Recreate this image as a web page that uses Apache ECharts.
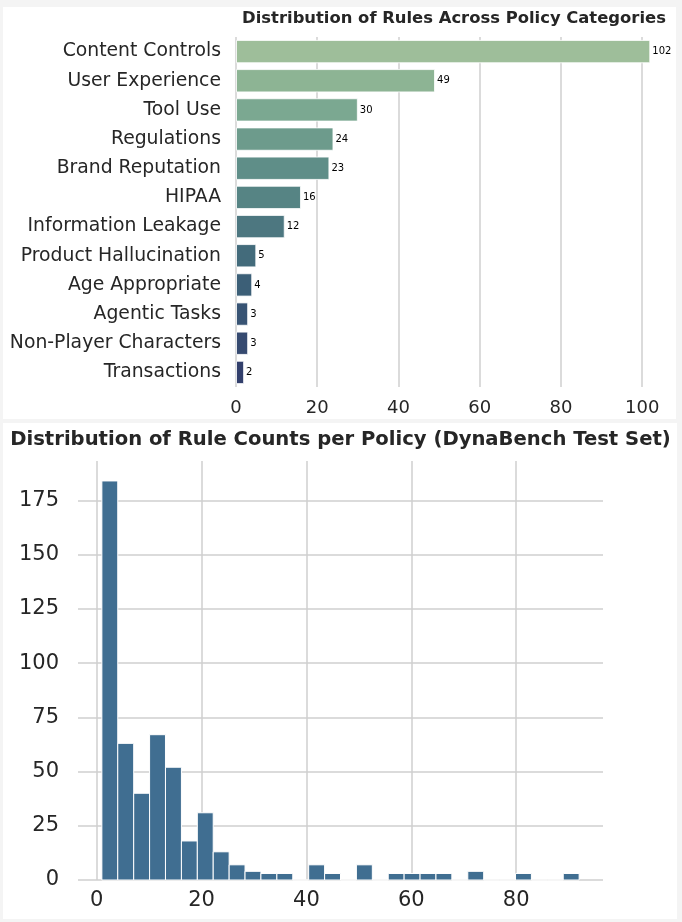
<!DOCTYPE html>
<html>
<head>
<meta charset="utf-8">
<script src="https://cdn.jsdelivr.net/npm/echarts@6/dist/echarts.min.js"></script>
<style>
  html, body { margin: 0; padding: 0; background: #f4f4f4; }
  #wrap { position: relative; width: 682px; height: 922px; }
  .panel { position: absolute; background: #ffffff; }
  #c { position: absolute; left: 0; top: 0; width: 682px; height: 922px; }
</style>
</head>
<body>
<div id="wrap">
  <div class="panel" style="left:3px;top:7px;width:673px;height:412px;"></div>
  <div class="panel" style="left:3px;top:423px;width:674px;height:496px;"></div>
  <div id="c"></div>
</div>
<script>
// ---- Top chart data ----
const categories = [
  'Content Controls', 'User Experience', 'Tool Use', 'Regulations',
  'Brand Reputation', 'HIPAA', 'Information Leakage', 'Product Hallucination',
  'Age Appropriate', 'Agentic Tasks', 'Non-Player Characters', 'Transactions'
];
const ruleCounts = [102, 49, 30, 24, 23, 16, 12, 5, 4, 3, 3, 2];
const barColors = [
  '#9ebe9a', '#8db494', '#7ba891', '#6d9b8c', '#5f8e88', '#568484',
  '#4d7780', '#436b7b', '#3c5f77', '#385474', '#364a70', '#323f6c'
];
const topTicks = [0, 20, 40, 60, 80, 100];
const topTitle = 'Distribution of Rules Across Policy Categories';

// ---- Bottom chart data (histogram) ----
const binEdges = [
  1.00, 4.03, 7.07, 10.10, 13.13, 16.17, 19.20, 22.23, 25.27, 28.30,
  31.33, 34.37, 37.40, 40.43, 43.47, 46.50, 49.53, 52.57, 55.60, 58.63,
  61.67, 64.70, 67.73, 70.77, 73.80, 76.83, 79.87, 82.90, 85.93, 88.97, 92.00
];
const binCounts = [
  184, 63, 40, 67, 52, 18, 31, 13, 7, 4,
  3, 3, 0, 7, 3, 0, 7, 0, 3, 3,
  3, 3, 0, 4, 0, 0, 3, 0, 0, 3
];
const bottomXTicks = [0, 20, 40, 60, 80];
const bottomYTicks = [0, 25, 50, 75, 100, 125, 150, 175];
const bottomTitle = 'Distribution of Rule Counts per Policy (DynaBench Test Set)';

const FONT = 'DejaVu Sans';
const TXT = '#262626';
const GRID = '#cfcfcf';

const chart = echarts.init(document.getElementById('c'), null, { renderer: 'canvas' });

const histData = binCounts.map((c, i) => [binEdges[i], binEdges[i + 1], c]);

chart.setOption({
  backgroundColor: 'transparent',
  animation: false,
  textStyle: { fontFamily: FONT },
  graphic: [
    { type: 'text', x: 454, y: 18.5, silent: true,
      style: { text: topTitle, font: 'bold 16.4px "DejaVu Sans"', fill: TXT, align: 'center', verticalAlign: 'middle' } },
    { type: 'text', x: 340.5, y: 439.5, silent: true,
      style: { text: bottomTitle, font: 'bold 19.6px "DejaVu Sans"', fill: TXT, align: 'center', verticalAlign: 'middle' } }
  ],
  grid: [
    { left: 236, top: 37, width: 435, height: 350, containLabel: false },
    { left: 78, top: 461, width: 525, height: 419, containLabel: false }
  ],
  xAxis: [
    {
      gridIndex: 0, type: 'value', min: 0, max: 107.1,
      axisLine: { show: false },
      axisTick: { show: false, customValues: topTicks },
      axisLabel: { customValues: topTicks, fontSize: 18, color: TXT, margin: 12, fontFamily: FONT },
      splitLine: { show: true, lineStyle: { color: GRID, width: 1.5 } }
    },
    {
      gridIndex: 1, type: 'value', min: -3.55, max: 96.55,
      axisLine: { show: false },
      axisTick: { show: false, customValues: bottomXTicks },
      axisLabel: { customValues: bottomXTicks, fontSize: 21, color: TXT, margin: 10, fontFamily: FONT },
      splitLine: { show: true, lineStyle: { color: GRID, width: 1.5 } }
    }
  ],
  yAxis: [
    {
      gridIndex: 0, type: 'category', data: categories, inverse: true,
      axisLine: { show: false },
      axisTick: { show: false },
      axisLabel: { fontSize: 18.8, color: TXT, margin: 15, fontFamily: FONT },
      splitLine: { show: false }
    },
    {
      gridIndex: 1, type: 'value', min: 0, max: 193.2,
      axisLine: { show: false },
      axisTick: { show: false, customValues: bottomYTicks },
      axisLabel: { customValues: bottomYTicks, fontSize: 21, color: TXT, margin: 19, fontFamily: FONT },
      splitLine: { show: true, lineStyle: { color: GRID, width: 1.5 } }
    }
  ],
  series: [
    {
      type: 'bar', xAxisIndex: 0, yAxisIndex: 0,
      barCategoryGap: '20%',
      data: ruleCounts.map((v, i) => ({ value: v, itemStyle: { color: barColors[i] } })),
      itemStyle: { borderColor: 'rgba(255,255,255,0.8)', borderWidth: 1 },
      label: { show: true, position: 'right', distance: 2, fontSize: 10, color: '#000', fontFamily: FONT }
    },
    {
      type: 'custom', xAxisIndex: 1, yAxisIndex: 1,
      data: histData,
      encode: { x: [0, 1], y: 2 },
      renderItem: function (params, api) {
        const x0 = api.value(0), x1 = api.value(1), c = api.value(2);
        const p0 = api.coord([x0, 0]);
        const p1 = api.coord([x1, c]);
        return {
          type: 'rect',
          shape: { x: p0[0], y: p1[1], width: p1[0] - p0[0], height: p0[1] - p1[1] },
          style: { fill: '#406e91', stroke: '#ffffff', lineWidth: 1 }
        };
      }
    }
  ]
});
</script>
</body>
</html>
